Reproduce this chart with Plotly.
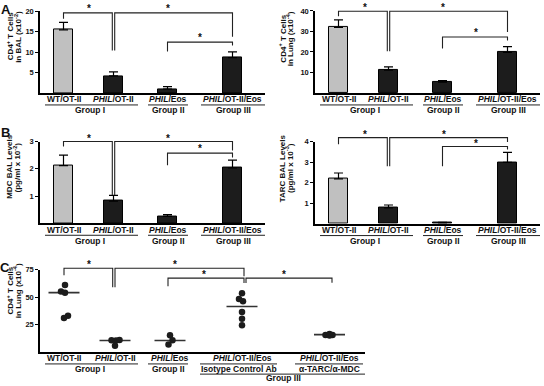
import plotly.graph_objects as go

W, H = 544, 386
FONT = "Liberation Sans, Arial, sans-serif"
INK = "#111111"

# ---------------- data ----------------
groups4 = ["WT/OT-II", "PHIL/OT-II", "PHIL/Eos", "PHIL/OT-II/Eos"]
group_names = ["Group I", "Group II", "Group III"]

bal_cd4 = [15.5, 4.2, 1.0, 8.7]
bal_cd4_err = [1.8, 1.0, 0.6, 1.4]
lung_cd4 = [32.0, 11.2, 5.3, 19.8]
lung_cd4_err = [3.6, 1.6, 0.8, 2.8]
mdc = [2.12, 0.82, 0.26, 2.03]
mdc_err = [0.38, 0.21, 0.06, 0.29]
tarc = [2.18, 0.77, 0.04, 2.99]
tarc_err = [0.29, 0.14, 0.02, 0.48]

c_labels = ["WT/OT-II", "PHIL/OT-II", "PHIL/Eos", "PHIL/OT-II/Eos", "PHIL/OT-II/Eos"]
c_treatments = ["Isotype Control Ab", "α-TARC/α-MDC"]
c_points = [
    [61, 55, 54, 33, 31],
    [10.8, 10.5, 11, 5.8],
    [15.3, 10.8, 6.9],
    [53.4, 48.3, 46.2, 36.3, 30.3, 24.3],
    [15.5, 16.5, 15.5, 15],
]
c_medians = [54, 10.5, 10.5, 41.4, 15.8]

ticks_bal = [5, 10, 15, 20]
ticks_lung = [10, 20, 30, 40]
ticks_mdc = [1, 2, 3]
ticks_tarc = [1, 2, 3, 4]
ticks_c = [25, 50, 75]

# ---------------- layout helpers (pixel placement) ----------------
def py(y):
    return 1 - y / H

def px(x):
    return x / W

BAR_POS = [23.5, 73.5, 127.5, 192.5]
C_POS = [24, 75, 130, 202, 289.5]
C_JITTER = [[1, -3, 1, 4, 0], [-3.5, 1, 4.5, 0], [0, 2.5, -1.5], [0, -3, 1, 0, 0, 0], [-4, 0, 3, 0]]
BAR_COLORS = ["#c0c0c0", "#1c1c1c", "#1c1c1c", "#1c1c1c"]
ROW1, UL1, ROW2, UL2, ROW3 = 6.3, 12, 17.6, 22.3, 26.6

fig = go.Figure()
annotations = []
shapes = []

def txt(x, y, text, xref="paper", size=8.5, angle=0, xanchor="center", yanchor="middle"):
    annotations.append(dict(
        x=x, y=y, xref=xref, yref="paper", text=text, showarrow=False,
        textangle=angle, xanchor=xanchor, yanchor=yanchor,
        font=dict(family=FONT, size=size, color=INK, weight="bold"),
    ))

def line(x0, y0, x1, y1, xref, width=1.1, color="#222"):
    shapes.append(dict(type="line", xref=xref, yref="paper", x0=x0, x1=x1,
                       y0=py(y0), y1=py(y1), line=dict(color=color, width=width)))

def bracket(xa, xb, ytop, yl, yr, xref):
    shapes.append(dict(type="path", xref=xref, yref="paper",
                       path=f"M {xa},{py(yl)} L {xa},{py(ytop)} L {xb},{py(ytop)} L {xb},{py(yr)}",
                       line=dict(color="#222", width=1.1)))

def cat_label(name):
    if name.startswith("PHIL"):
        return "<i>PHIL</i>" + name[4:]
    return name

def setup_axes(idx, xpx, ypx, yr, tickvals, xwidth):
    xs = "xaxis" if idx == 1 else f"xaxis{idx}"
    ys = "yaxis" if idx == 1 else f"yaxis{idx}"
    yid = "y" if idx == 1 else f"y{idx}"
    xid = "x" if idx == 1 else f"x{idx}"
    fig.layout[xs] = dict(domain=[px(xpx[0]), px(xpx[1])], range=[0, xwidth], anchor=yid,
                          showline=True, linecolor="black", linewidth=1.5, showgrid=False,
                          zeroline=False, showticklabels=False, ticks="", fixedrange=True)
    fig.layout[ys] = dict(domain=[py(ypx[1]), py(ypx[0])], range=[0, yr], anchor=xid,
                          showline=True, linecolor="black", linewidth=1.5, showgrid=False,
                          zeroline=False, ticks="outside", ticklen=3, tickwidth=1, tickcolor="black",
                          tickvals=tickvals, ticktext=[str(v) for v in tickvals],
                          tickfont=dict(family=FONT, size=7.5, color=INK, weight="bold"),
                          fixedrange=True)
    return xid, yid

def x_labels_4(xid, base):
    for p, g in zip(BAR_POS, groups4):
        txt(p, py(base + ROW1), cat_label(g), xref=xid, size=8.5)
    for (a, b), gp, gn in zip([(5, 98), (108, 148), (161, 225)], [50, 128, 193], group_names):
        line(a, base + UL1, b, base + UL1, xid, width=1)
        txt(gp, py(base + ROW2), gn, xref=xid, size=8.5)

def bar_panel(idx, xpx, ypx, yr, tickvals, vals, errs):
    xid, yid = setup_axes(idx, xpx, ypx, yr, tickvals, 225)
    fig.add_trace(go.Bar(
        x=BAR_POS, y=vals, width=18.5, xaxis=xid, yaxis=yid,
        marker=dict(color=BAR_COLORS, line=dict(color="black", width=1)),
        error_y=dict(type="data", array=errs, arrayminus=[0] * len(errs), symmetric=False,
                     color="black", thickness=1.2, width=4.5),
        hoverinfo="skip"))
    x_labels_4(xid, ypx[1])
    return xid

# ---------------- Panel A ----------------
xa1 = bar_panel(1, (40, 265), (7.5, 90), 20, ticks_bal, bal_cd4, bal_cd4_err)
bracket(BAR_POS[0], BAR_POS[1] - 1.2, 9, 15, 47, xa1)
bracket(BAR_POS[1] + 1.2, BAR_POS[3], 9, 47, 33, xa1)
bracket(BAR_POS[2], BAR_POS[3], 38.5, 48, 42, xa1)
for sx, sy in [(48.5, 5), (128, 5), (160, 34)]:
    txt(sx, py(sy), "*", xref=xa1, size=10)

xa2 = bar_panel(2, (315, 540), (7, 90), 40, ticks_lung, lung_cd4, lung_cd4_err)
bracket(BAR_POS[0], BAR_POS[1] - 1.2, 7.3, 12.3, 47.7, xa2)
bracket(BAR_POS[1] + 1.2, BAR_POS[3], 7.3, 47.7, 28.3, xa2)
bracket(BAR_POS[2], BAR_POS[3], 33.3, 45, 37, xa2)
for sx, sy in [(49.7, 3.5), (128, 3.5), (161, 29)]:
    txt(sx, py(sy), "*", xref=xa2, size=10)

# ---------------- Panel B ----------------
xa3 = bar_panel(3, (40, 265), (139, 221.7), 3, ticks_mdc, mdc, mdc_err)
bracket(BAR_POS[0], BAR_POS[1] - 1.2, 139, 144, 193, xa3)
bracket(BAR_POS[1] + 1.2, BAR_POS[3], 139, 193, 148, xa3)
bracket(BAR_POS[2], BAR_POS[3], 150.7, 163, 155, xa3)
for sx, sy in [(48.5, 135.5), (128, 135.5), (160, 146.5)]:
    txt(sx, py(sy), "*", xref=xa3, size=10)

xa4 = bar_panel(4, (315, 540), (139, 222), 4, ticks_tarc, tarc, tarc_err)
bracket(BAR_POS[0], BAR_POS[1] - 1.2, 135, 141.7, 164, xa4)
bracket(BAR_POS[1] + 1.2, BAR_POS[3], 135, 164, 139.5, xa4)
bracket(BAR_POS[2], BAR_POS[3], 144, 164, 147, xa4)
for sx, sy in [(49.7, 131.5), (128.7, 131.5), (161, 140.5)]:
    txt(sx, py(sy), "*", xref=xa4, size=10)

# ---------------- Panel C ----------------
xc, yc = setup_axes(5, (40, 365), (268.3, 351.7), 75, ticks_c, 325)
for p, pts, jit, med in zip(C_POS, c_points, C_JITTER, c_medians):
    fig.add_trace(go.Scatter(x=[p - 15.5, p + 15.5], y=[med, med], mode="lines",
                             line=dict(color="#333", width=1.6), xaxis=xc, yaxis=yc, hoverinfo="skip"))
    fig.add_trace(go.Scatter(x=[p + j for j in jit], y=pts, mode="markers",
                             marker=dict(color="#1c1c1c", size=6.5), xaxis=xc, yaxis=yc,
                             hoverinfo="skip"))
baseC = 351.7
for p, g in zip(C_POS, c_labels):
    txt(p, py(baseC + ROW1), cat_label(g), xref=xc, size=8.5)
for (a, b) in [(5, 98), (108, 148), (160, 237), (255, 323)]:
    line(a, baseC + UL1, b, baseC + UL1, xc, width=1)
txt(50, py(baseC + ROW2), group_names[0], xref=xc)
txt(128, py(baseC + ROW2), group_names[1], xref=xc)
txt(198.5, py(baseC + ROW2), c_treatments[0], xref=xc)
txt(289, py(baseC + ROW2), c_treatments[1], xref=xc)
line(160, baseC + UL2, 325, baseC + UL2, xc, width=1)
txt(243, py(baseC + ROW3), group_names[2], xref=xc)

bracket(C_POS[0], C_POS[1] - 2.3, 267, 274, 286.3, xc)
bracket(C_POS[1], 204, 267, 286.3, 275, xc)
bracket(128, 204, 277, 285.3, 282, xc)
bracket(206, 292, 277, 282, 281.7, xc)
for sx, sy in [(49.3, 263), (135, 263), (164, 273), (243.7, 273)]:
    txt(sx, py(sy), "*", xref=xc, size=10)

# ---------------- axis titles & panel letters ----------------
def ytitle(x1, x2, yc_, l1, l2):
    txt(px(x1), py(yc_), l1, size=8, angle=-90)
    txt(px(x2), py(yc_), l2, size=8, angle=-90)

ytitle(9.5, 17.2, 33, "CD4<sup>+</sup> T Cells", "in BAL (x10<sup>-2</sup>)")
ytitle(282, 289.7, 35, "CD4<sup>+</sup> T Cells", "in Lung (x10<sup>-4</sup>)")
ytitle(9.5, 17.2, 165, "MDC BAL Levels", "(pg/ml x 10<sup>-2</sup>)")
ytitle(282, 289.7, 166, "TARC BAL Levels", "(pg/ml x 10<sup>-3</sup>)")
ytitle(9.5, 17.2, 290, "CD4<sup>+</sup> T Cells", "in Lung (x10<sup>-4</sup>)")

txt(px(6), py(6), "A", size=13)
txt(px(5), py(130), "B", size=13)
txt(px(5), py(266), "C", size=13)

fig.update_layout(
    width=W, height=H, margin=dict(l=0, r=0, t=0, b=0),
    paper_bgcolor="white", plot_bgcolor="white", showlegend=False,
    annotations=annotations, shapes=shapes, bargap=0,
)
fig.write_html("out.html", config={"displayModeBar": False},
               post_script="document.body.style.margin='0px';")
